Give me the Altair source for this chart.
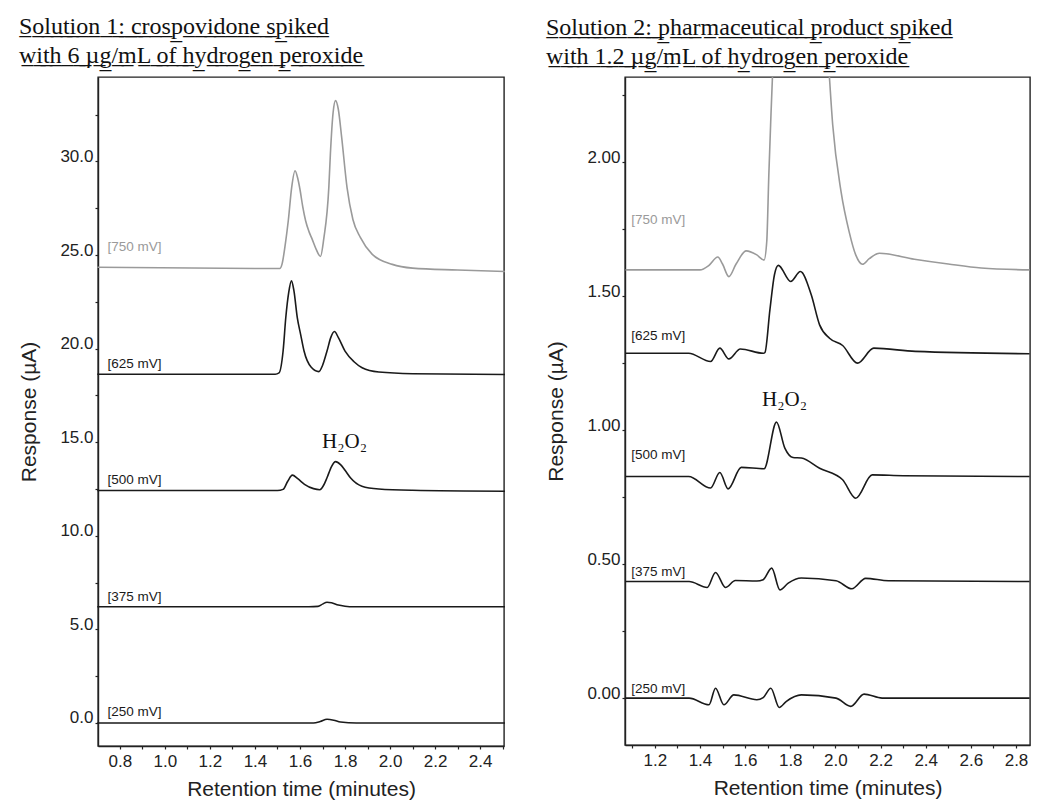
import altair as alt
import pandas as pd

# ---------------- Solution 1 (left panel) ----------------
L250_T = [0.70, 1.60, 1.66, 1.69, 1.72, 1.75, 1.78, 1.85, 2.51]
L250_Y = [0.0, 0.0, 0.0, 0.08, 0.2, 0.15, 0.05, 0.0, 0.0]

L375_T = [0.70, 1.64, 1.68, 1.70, 1.72, 1.74, 1.77, 1.80, 1.84, 2.51]
L375_Y = [6.21, 6.21, 6.23, 6.35, 6.45, 6.42, 6.30, 6.24, 6.21, 6.21]

L500_T = [0.70, 1.50, 1.525, 1.545, 1.566, 1.59, 1.62, 1.66, 1.688, 1.705, 1.72, 1.74, 1.758, 1.78, 1.80, 1.824, 1.875, 1.95, 2.10, 2.51]
L500_Y = [12.42, 12.42, 12.48, 12.90, 13.24, 13.05, 12.75, 12.52, 12.46, 12.70, 13.10, 13.70, 13.96, 13.80, 13.50, 13.10, 12.65, 12.50, 12.43, 12.38]

L625_T = [0.70, 1.49, 1.507, 1.525, 1.537, 1.55, 1.562, 1.573, 1.588, 1.603, 1.618, 1.65, 1.684, 1.70, 1.72, 1.737, 1.753, 1.77, 1.80, 1.84, 1.876, 1.95, 2.10, 2.51]
L625_Y = [18.63, 18.63, 18.70, 19.87, 21.66, 23.00, 23.62, 23.10, 21.66, 20.75, 19.87, 19.00, 18.77, 19.10, 19.87, 20.60, 20.91, 20.60, 19.87, 19.30, 18.98, 18.75, 18.66, 18.62]

L750_T = [0.70, 1.40, 1.51, 1.52, 1.535, 1.548, 1.563, 1.578, 1.59, 1.60, 1.612, 1.625, 1.64, 1.654, 1.672, 1.691, 1.706, 1.728, 1.735, 1.747, 1.758, 1.77, 1.785, 1.809, 1.835, 1.868, 1.92, 2.01, 2.10, 2.30, 2.51]
L750_Y = [24.35, 24.28, 24.28, 24.50, 25.60, 26.83, 28.60, 29.50, 29.10, 28.50, 27.60, 26.83, 26.25, 25.85, 25.30, 24.92, 25.90, 28.60, 30.40, 32.60, 33.25, 32.80, 31.30, 28.60, 26.90, 25.94, 25.05, 24.50, 24.30, 24.20, 24.12]

L_LABELS = ["[750 mV]", "[625 mV]", "[500 mV]", "[375 mV]", "[250 mV]"]
L_LABEL_Y = [25.45, 19.2, 13.0, 6.75, 0.57]
L_LABEL_T = 0.745

# ---------------- Solution 2 (right panel) ----------------
R250_T = [1.07, 1.352, 1.44, 1.469, 1.506, 1.55, 1.652, 1.68, 1.714, 1.751, 1.783, 1.849, 2.003, 2.068, 2.127, 2.207, 2.86]
R250_Y = [0.0, 0.0, -0.025, 0.037, -0.025, 0.012, -0.006, 0.002, 0.037, -0.035, -0.012, 0.012, 0.0, -0.031, 0.015, 0.0, 0.0]

R375_T = [1.07, 1.352, 1.432, 1.469, 1.513, 1.557, 1.652, 1.68, 1.718, 1.754, 1.791, 1.849, 2.003, 2.073, 2.134, 2.235, 2.86]
R375_Y = [0.435, 0.435, 0.413, 0.469, 0.413, 0.439, 0.437, 0.442, 0.485, 0.404, 0.429, 0.448, 0.438, 0.408, 0.447, 0.438, 0.435]

R500_T = [1.07, 1.35, 1.447, 1.488, 1.525, 1.583, 1.684, 1.739, 1.776, 1.812, 1.849, 1.93, 2.032, 2.09, 2.163, 2.30, 2.86]
R500_Y = [0.827, 0.827, 0.784, 0.842, 0.781, 0.861, 0.856, 1.030, 0.933, 0.898, 0.896, 0.858, 0.815, 0.746, 0.833, 0.830, 0.827]

R625_T = [1.07, 1.35, 1.447, 1.488, 1.528, 1.579, 1.681, 1.688, 1.71, 1.73, 1.747, 1.802, 1.845, 1.893, 1.93, 1.974, 2.032, 2.098, 2.17, 2.354, 2.86]
R625_Y = [1.287, 1.287, 1.256, 1.306, 1.266, 1.303, 1.287, 1.290, 1.450, 1.580, 1.615, 1.555, 1.592, 1.505, 1.393, 1.343, 1.316, 1.250, 1.306, 1.294, 1.285]

R750_T = [1.07, 1.40, 1.44, 1.479, 1.50, 1.528, 1.56, 1.605, 1.65, 1.684, 1.696, 1.705, 1.713, 1.725, 1.78, 1.85, 1.92, 1.967, 1.988, 2.025, 2.061, 2.09, 2.12, 2.15, 2.195, 2.35, 2.50, 2.646, 2.86]
R750_Y = [1.598, 1.598, 1.615, 1.646, 1.620, 1.573, 1.620, 1.669, 1.655, 1.635, 1.705, 1.950, 2.140, 2.400, 2.900, 3.100, 2.900, 2.400, 2.140, 1.890, 1.740, 1.654, 1.619, 1.640, 1.660, 1.638, 1.620, 1.605, 1.598]

R_LABELS = ["[750 mV]", "[625 mV]", "[500 mV]", "[375 mV]", "[250 mV]"]
R_LABEL_Y = [1.785, 1.35, 0.908, 0.47, 0.034]
R_LABEL_T = 1.096

TRACES = ["750", "625", "500", "375", "250"]
TRACE_COLORS = ["#9a9a9a", "#1a1a1a", "#1a1a1a", "#1a1a1a", "#1a1a1a"]

# tick positions (all) and the subset that carries a label
L_X_TICKS = [0.8, 0.9, 1.0, 1.1, 1.2, 1.3, 1.4, 1.5, 1.6, 1.7, 1.8, 1.9, 2.0, 2.1, 2.2, 2.3, 2.4, 2.5]
L_X_LABELED = ["0.8", "1.0", "1.2", "1.4", "1.6", "1.8", "2.0", "2.2", "2.4"]
L_Y_TICKS = [0, 2.5, 5, 7.5, 10, 12.5, 15, 17.5, 20, 22.5, 25, 27.5, 30, 32.5]
L_Y_LABELED = ["0.0", "5.0", "10.0", "15.0", "20.0", "25.0", "30.0"]
R_X_TICKS = [1.1, 1.2, 1.3, 1.4, 1.5, 1.6, 1.7, 1.8, 1.9, 2.0, 2.1, 2.2, 2.3, 2.4, 2.5, 2.6, 2.7, 2.8]
R_X_LABELED = ["1.2", "1.4", "1.6", "1.8", "2.0", "2.2", "2.4", "2.6", "2.8"]
R_Y_TICKS = [0, 0.25, 0.5, 0.75, 1.0, 1.25, 1.5, 1.75, 2.0, 2.25]
R_Y_LABELED = ["0.00", "0.50", "1.00", "1.50", "2.00"]

L_TITLE = ["Solution 1: crospovidone spiked", "with 6 \u00b5g/mL of hydrogen peroxide"]
R_TITLE = ["Solution 2: pharmaceutical product spiked", "with 1.2 \u00b5g/mL of hydrogen peroxide"]
H2O2 = "H\u2082O\u2082"


def ul(s):
    return "".join(c + "\u0332" for c in s)


def traces_df(series):
    rows = []
    for name, (ts, ys) in zip(TRACES, series):
        for t, y in zip(ts, ys):
            rows.append({"t": t, "y": y, "trace": name})
    return pd.DataFrame(rows)


def labels_df(labels, ys, t0):
    return pd.DataFrame({"t": [t0] * len(labels), "y": ys, "label": labels, "trace": TRACES})


def label_expr(labeled, dec):
    arr = "[" + ",".join(f"'{s}'" for s in labeled) + "]"
    return f"indexof({arr}, format(datum.value, '.{dec}f')) >= 0 ? format(datum.value, '.{dec}f') : ' '"


AX = dict(labelFont="Liberation Sans", titleFont="Liberation Sans", labelFontSize=17, titleFontSize=21,
          titleFontWeight="normal", labelColor="#222", titleColor="#222", domainColor="#222",
          tickColor="#222", domainWidth=1.4, tickWidth=1.2, grid=False, labelOverlap=False,
          labelFlush=False)


def panel(series, labels, label_ys, label_t, xdom, ydom, xticks, xlab, yticks, ylab, ydec,
          title, h2_t, h2_y, w, h, title_offset, clip):
    df = traces_df(series)
    xscale = alt.Scale(domain=xdom, nice=False, zero=False)
    yscale = alt.Scale(domain=ydom, nice=False, zero=False)
    color = alt.Color("trace:N", scale=alt.Scale(domain=TRACES, range=TRACE_COLORS), legend=None)
    xaxis = alt.Axis(values=xticks, title="Retention time (minutes)",
                     labelExpr=label_expr(xlab, 1),
                     tickSize=3, labelPadding=4, titlePadding=9, **AX)
    yaxis = alt.Axis(values=yticks, title="Response (\u00b5A)",
                     labelExpr=label_expr(ylab, ydec),
                     tickSize=3, labelPadding=2, titlePadding=20,
                     labelBaseline="alphabetic", **AX)
    lines = alt.Chart(df).mark_line(interpolate="monotone", strokeWidth=1.6, clip=clip).encode(
        x=alt.X("t:Q", scale=xscale, axis=xaxis),
        y=alt.Y("y:Q", scale=yscale, axis=yaxis),
        color=color,
        detail="trace:N",
        order="t:Q",
    )
    ldf = labels_df(labels, label_ys, label_t)
    texts = alt.Chart(ldf).mark_text(align="left", baseline="middle", font="Liberation Sans",
                                     fontSize=13.5).encode(
        x=alt.X("t:Q", scale=xscale, axis=xaxis),
        y=alt.Y("y:Q", scale=yscale, axis=yaxis),
        text="label:N",
        color=color,
    )
    hdf = pd.DataFrame({"t": [h2_t], "y": [h2_y], "label": [H2O2]})
    h2 = alt.Chart(hdf).mark_text(align="center", baseline="middle", font="Liberation Serif",
                                  fontSize=21, color="#111").encode(
        x=alt.X("t:Q", scale=xscale, axis=xaxis),
        y=alt.Y("y:Q", scale=yscale, axis=yaxis),
        text="label:N",
    )
    return alt.layer(lines, texts, h2).properties(
        width=w, height=h,
        title=alt.TitleParams(text=[ul(title[0]), ul(title[1])], font="Liberation Serif",
                              fontSize=24, fontWeight="normal", anchor="start",
                              lineHeight=29, offset=title_offset, color="#111"),
    )


left = panel([(L750_T, L750_Y), (L625_T, L625_Y), (L500_T, L500_Y), (L375_T, L375_Y), (L250_T, L250_Y)],
             L_LABELS, L_LABEL_Y, L_LABEL_T, [0.703, 2.506], [-1.23, 34.51],
             L_X_TICKS, L_X_LABELED, L_Y_TICKS, L_Y_LABELED, 1,
             L_TITLE, 1.798, 15.0, 406, 669, 9, False)
right = panel([(R750_T, R750_Y), (R625_T, R625_Y), (R500_T, R500_Y), (R375_T, R375_Y), (R250_T, R250_Y)],
              R_LABELS, R_LABEL_Y, R_LABEL_T, [1.068, 2.862], [-0.175, 2.318],
              R_X_TICKS, R_X_LABELED, R_Y_TICKS, R_Y_LABELED, 2,
              R_TITLE, 1.775, 1.113, 405, 668, 8, True)

chart = alt.hconcat(left, right, spacing=36).properties(
    padding={"left": 10, "top": 6, "right": 0, "bottom": 0},
    background="white",
).configure_view(
    stroke="#222", strokeWidth=1.4
)

chart.save("out.html", embed_options={"renderer": "svg", "actions": False})
